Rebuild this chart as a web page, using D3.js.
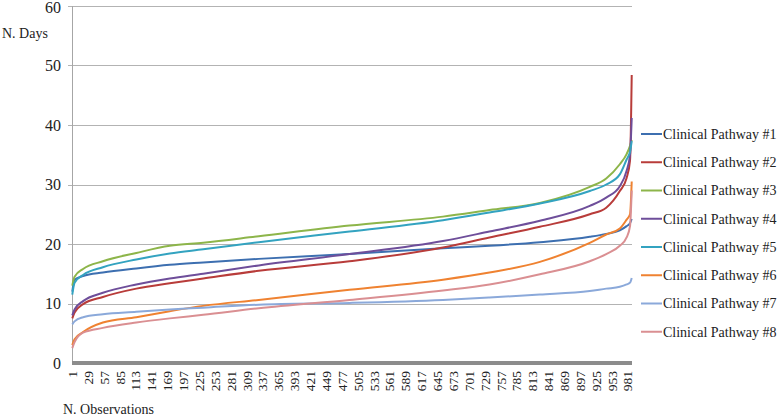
<!DOCTYPE html>
<html lang="en">
<head>
<meta charset="utf-8" />
<title>Clinical pathways</title>
<script src="https://cdn.jsdelivr.net/npm/d3@7"></script>
<style>
  body { margin: 0; background: #fff; }
  svg { font-family: "Liberation Serif", "Times New Roman", serif; }
</style>
</head>
<body>
<div id="chart"></div>
<script>
var width = 777, height = 416;
var nObs = 988;

// observation numbers where values were read
var obs = [1, 5, 20, 55, 114, 173, 232, 330, 490, 655, 737, 826, 914, 943, 967, 979, 985, 988];

var pathway1 = [12.0, 14.0, 14.6, 15.2, 15.9, 16.5, 16.9, 17.5, 18.3, 19.3, 19.7, 20.3, 21.2, 21.7, 22.3, 23.0, 23.5, 24.2];
var pathway2 = [7.5, 8.5, 9.9, 11.1, 12.5, 13.4, 14.2, 15.5, 17.1, 19.4, 21.1, 22.9, 25.0, 26.1, 28.9, 31.1, 34.0, 48.4];
var pathway3 = [13.0, 14.5, 15.8, 17.1, 18.5, 19.7, 20.2, 21.3, 23.1, 24.6, 25.7, 26.9, 29.6, 31.0, 33.4, 35.1, 36.5, 37.5];
var pathway4 = [8.0, 9.0, 10.4, 11.8, 13.2, 14.2, 15.0, 16.4, 18.3, 20.5, 22.1, 23.9, 26.4, 27.8, 29.7, 32.3, 35.0, 41.2];
var pathway5 = [11.5, 13.5, 14.8, 16.1, 17.4, 18.4, 19.1, 20.3, 22.1, 24.0, 25.3, 26.8, 28.9, 30.0, 31.7, 34.2, 35.5, 37.3];
var pathway6 = [3.0, 4.0, 5.2, 6.8, 7.7, 8.7, 9.6, 10.6, 12.3, 14.0, 15.2, 17.0, 20.2, 21.6, 22.6, 24.1, 25.0, 30.5];
var pathway7 = [6.5, 7.0, 7.7, 8.2, 8.6, 9.0, 9.3, 9.8, 10.1, 10.6, 11.0, 11.5, 12.1, 12.5, 12.8, 13.2, 13.5, 14.3];
var pathway8 = [2.5, 3.5, 5.1, 5.9, 6.8, 7.5, 8.1, 9.2, 10.6, 12.2, 13.2, 14.9, 17.1, 18.3, 19.7, 21.1, 23.0, 29.0];

var names = ["Clinical Pathway #1", "Clinical Pathway #2", "Clinical Pathway #3", "Clinical Pathway #4",
             "Clinical Pathway #5", "Clinical Pathway #6", "Clinical Pathway #7", "Clinical Pathway #8"];
var colors = ["#3d6fb0", "#b83c3a", "#8db54a", "#6e4e9a", "#33a3c0", "#ef8231", "#8ba9da", "#da8f92"];
var yTicks = [0, 10, 20, 30, 40, 50, 60];
var xTicks = d3.range(1, 982, 28);

var allSeries = [pathway1, pathway2, pathway3, pathway4, pathway5, pathway6, pathway7, pathway8];

var plotLeft = 72, plotRight = 632, plotTop = 6, plotBottom = 363;

var x = d3.scaleLinear().domain([0.5, nObs + 0.5]).range([plotLeft, plotRight]);
var y = d3.scaleLinear().domain([0, 60]).range([plotBottom, plotTop]);

var svg = d3.select("#chart").append("svg")
    .attr("width", width)
    .attr("height", height);

// gridlines
svg.append("g")
  .selectAll("line")
  .data(yTicks.slice(1))
  .enter().append("line")
    .attr("x1", plotLeft - 4).attr("x2", plotRight)
    .attr("y1", function(d) { return Math.round(y(d)) + 0.5; })
    .attr("y2", function(d) { return Math.round(y(d)) + 0.5; })
    .attr("stroke", "#b3b3b3")
    .attr("stroke-width", 1);

// y axis line
svg.append("line")
    .attr("x1", plotLeft + 0.5).attr("x2", plotLeft + 0.5)
    .attr("y1", plotTop).attr("y2", plotBottom)
    .attr("stroke", "#a6a6a6");

// y tick labels
svg.append("g")
  .selectAll("text")
  .data(yTicks)
  .enter().append("text")
    .attr("x", 61)
    .attr("y", function(d) { return Math.max(y(d), 7); })
    .attr("dy", "0.35em")
    .attr("text-anchor", "end")
    .attr("font-size", 16)
    .attr("fill", "#222")
    .text(function(d) { return d; });

// x axis as a thick bar
svg.append("line")
    .attr("x1", plotLeft).attr("x2", plotRight)
    .attr("y1", plotBottom).attr("y2", plotBottom)
    .attr("stroke", "#8c8c8c")
    .attr("stroke-width", 4);

// x tick labels
svg.append("g")
  .selectAll("text")
  .data(xTicks)
  .enter().append("text")
    .attr("transform", function(d) { return "translate(" + x(d) + ",371) rotate(-90)"; })
    .attr("dy", "0.35em")
    .attr("text-anchor", "end")
    .attr("font-size", 13.5)
    .attr("fill", "#222")
    .text(function(d) { return d; });

// series lines
var line = d3.line()
    .x(function(d, i) { return x(obs[i]); })
    .y(function(d) { return y(d); })
    .curve(d3.curveMonotoneX);

svg.append("g")
  .selectAll("path")
  .data(allSeries)
  .enter().append("path")
    .attr("d", line)
    .attr("fill", "none")
    .attr("stroke", function(d, i) { return colors[i]; })
    .attr("stroke-width", 2)
    .attr("stroke-linejoin", "round");

// legend
var legend = svg.append("g")
  .selectAll("g")
  .data(names)
  .enter().append("g")
    .attr("transform", function(d, i) { return "translate(641," + (134 + i * 28.25) + ")"; });

legend.append("line")
    .attr("x1", 0).attr("x2", 21)
    .attr("stroke", function(d, i) { return colors[i]; })
    .attr("stroke-width", 2);

legend.append("text")
    .attr("x", 22)
    .attr("dy", "0.35em")
    .attr("font-size", 14)
    .attr("fill", "#222")
    .text(function(d) { return d; });

// axis titles
svg.append("text")
    .attr("x", 2).attr("y", 33)
    .attr("dy", "0.35em")
    .attr("font-size", 14)
    .attr("fill", "#222")
    .text("N. Days");

svg.append("text")
    .attr("x", 63).attr("y", 409)
    .attr("dy", "0.35em")
    .attr("font-size", 14)
    .attr("fill", "#222")
    .text("N. Observations");
</script>
</body>
</html>
